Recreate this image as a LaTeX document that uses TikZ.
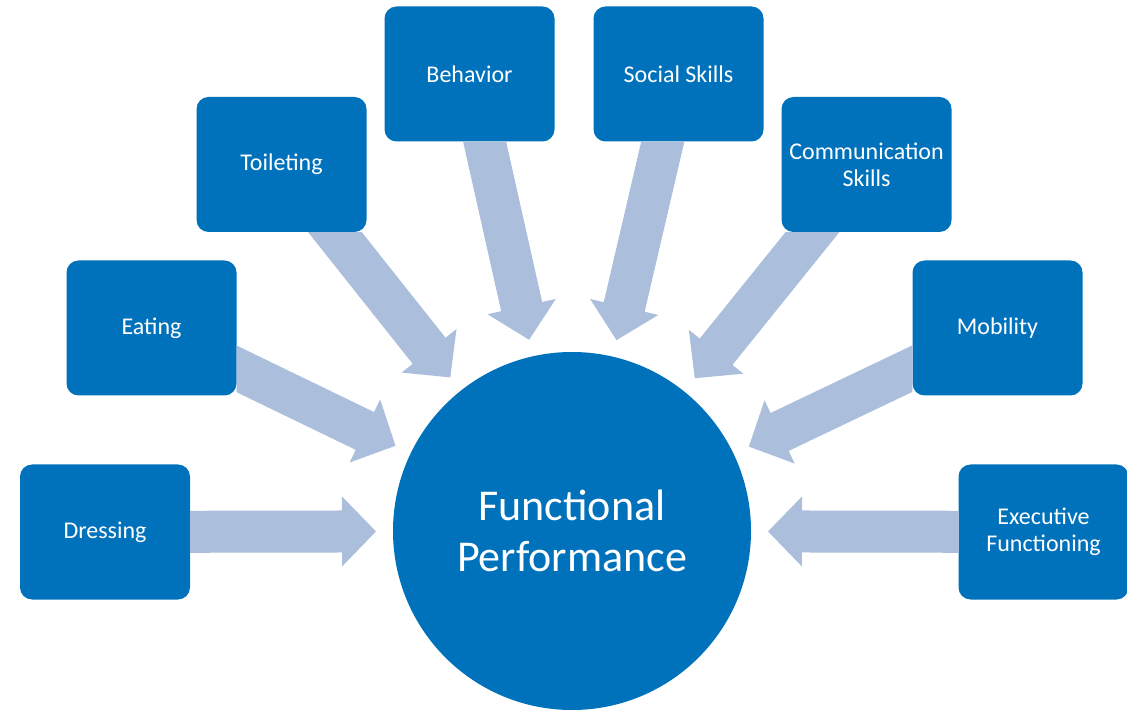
\documentclass[tikz,border=0pt]{standalone}
\usepackage{fontspec}
\setmainfont{Carlito}
\usetikzlibrary{calc}

\definecolor{boxblue}{RGB}{0,114,188}
\definecolor{arrowblue}{RGB}{171,190,220}

\tikzset{
  area/.style={draw=none,fill=boxblue,rounded corners=12pt,minimum width=170pt,
    minimum height=135pt,text=white,align=center,font=\fontsize{24}{27}\selectfont},
  hub/.style={circle,fill=boxblue,minimum size=358pt,inner sep=0pt,text=white,
    align=center,font=\fontsize{44}{51}\selectfont}
}

% block arrow from side #2--#3 of node #1 to just short of the hub
\newcommand{\feed}[3]{%
  \path (#1) -- (hub.center) coordinate[pos=0] (#1-t);
  \coordinate (#1-p) at ($(hub.center)!196pt!(#1.center)$);
  \coordinate (#1-h) at ($(#1-p)!34pt!(#1-t)$);
  \coordinate (#1-e1) at (#1.#2);
  \coordinate (#1-e2) at (#1.#3);
  % shaft edges, cut off along the side of the box
  \coordinate (#1-la) at ($(#1-t)!21pt!90:(#1-p)$);
  \coordinate (#1-lb) at ($(#1-h)!21pt!-90:(#1-t)$);
  \coordinate (#1-ra) at ($(#1-t)!21pt!-90:(#1-p)$);
  \coordinate (#1-rb) at ($(#1-h)!21pt!90:(#1-t)$);
  \fill[arrowblue] (intersection of #1-la--#1-lb and #1-e1--#1-e2) -- (#1-lb)
    -- ($(#1-h)!35pt!-90:(#1-t)$) -- (#1-p) -- ($(#1-h)!35pt!90:(#1-t)$)
    -- (#1-rb) -- (intersection of #1-ra--#1-rb and #1-e1--#1-e2) -- cycle;
}

\begin{document}
\begin{tikzpicture}[x=1pt,y=1pt]
        \useasboundingbox (0,0) rectangle (1127,710);

        \node[hub] (hub) at (572,179) {Functional\\Performance};

        \node[area] (dress) at (105,178) {Dressing};
        \node[area] (eat) at (151.5,382) {Eating};
        \node[area] (toilet) at (281.5,545.5) {Toileting};
        \node[area] (behav) at (469.5,636) {Behavior};
        \node[area] (social) at (678.5,636) {Social Skills};
        \node[area] (comm) at (866.5,545.5) {Communication\\Skills};
        \node[area] (mob) at (997.5,382) {Mobility};
        \node[area] (exec) at (1043.5,178) {Executive\\Functioning};

        \foreach \n/\a/\b in {dress/north east/south east,eat/north east/south east,
            toilet/south west/south east,behav/south west/south east,
            social/south west/south east,comm/south west/south east,
            mob/north west/south west,exec/north west/south west}
          {\feed{\n}{\a}{\b}}
      \end{tikzpicture}
\end{document}
